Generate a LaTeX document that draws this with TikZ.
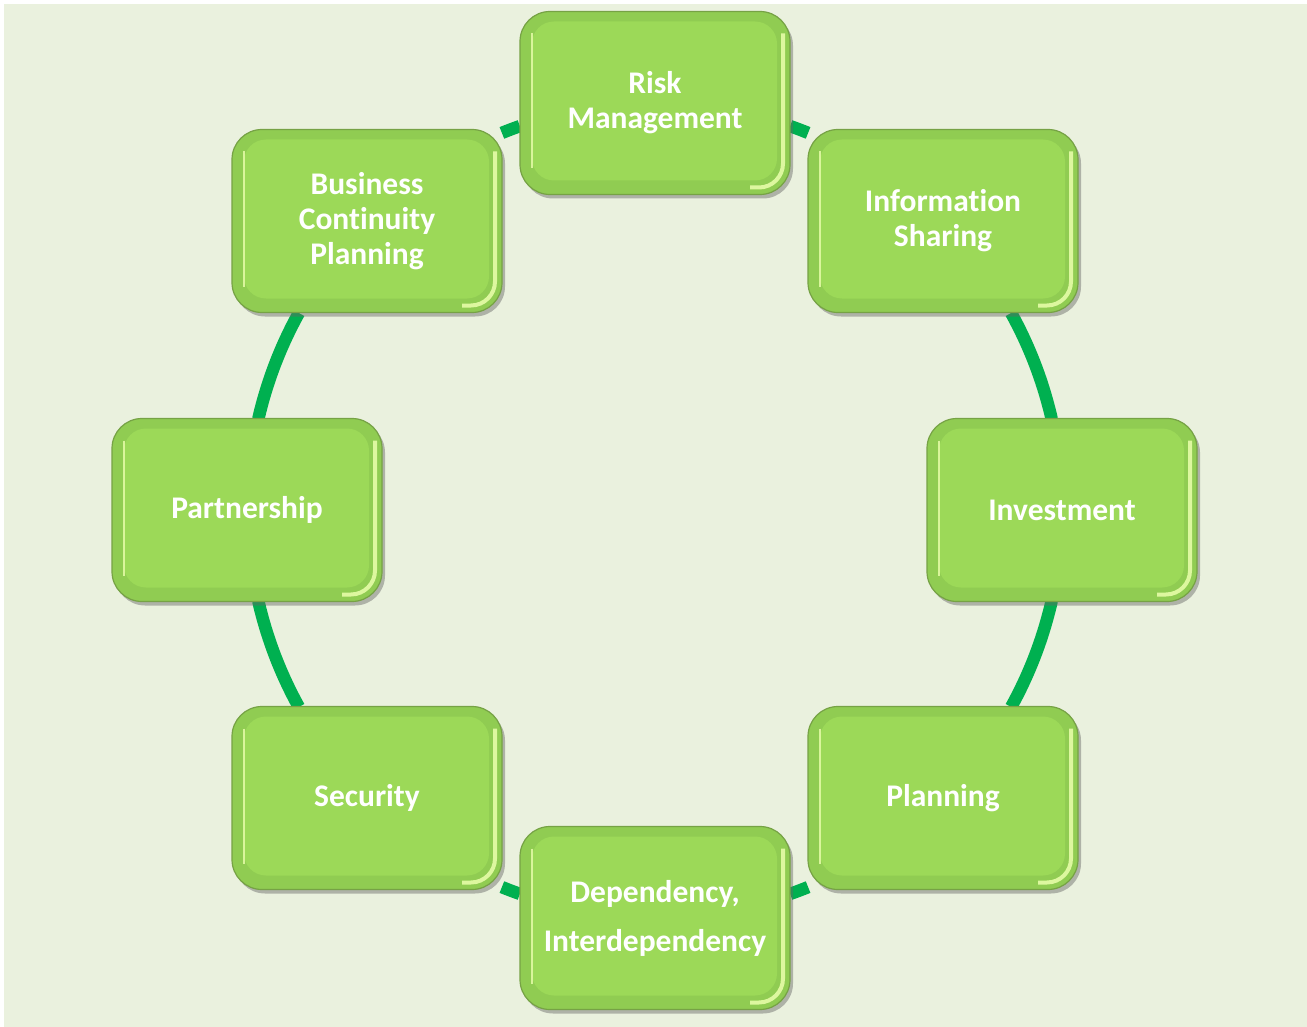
\documentclass[tikz,border=0pt]{standalone}
\usepackage{fontspec}
\setmainfont{Carlito}[Ligatures={NoCommon}]
\usetikzlibrary{shadows}
\definecolor{bg}{HTML}{EAF1DE}
\definecolor{ring}{HTML}{00B050}
\definecolor{boxouter}{HTML}{90CC52}
\definecolor{boxfill}{HTML}{9CD958}
\definecolor{boxedge}{HTML}{76A245}
\definecolor{boxlight}{HTML}{E6FCA8}
\tikzset{
  stepbox/.style={
    rectangle, rounded corners=30pt, outer sep=0pt,
    minimum width=270pt, minimum height=183pt,
    fill=boxouter, draw=boxedge, line width=1.2pt,
    text=white, align=center,
    font=\fontsize{31.5}{35}\selectfont\bfseries,
    drop shadow={shadow xshift=3pt, shadow yshift=-4pt, opacity=0.45, fill=black!60},
    path picture={
      \fill[boxfill, rounded corners=22pt]
        ([shift={(12pt,-10pt)}]path picture bounding box.north west) rectangle
        ([shift={(-13pt,14pt)}]path picture bounding box.south east);
      \draw[boxlight, line width=2.5pt, opacity=0.85]
        ([shift={(12pt,-22pt)}]path picture bounding box.north west) --
        ([shift={(12pt,26pt)}]path picture bounding box.south west);
      \draw[boxlight, line width=4pt, rounded corners=24pt, opacity=0.9]
        ([shift={(-7pt,-22pt)}]path picture bounding box.north east) --
        ([shift={(-7pt,7pt)}]path picture bounding box.south east) --
        ([shift={(-40pt,7pt)}]path picture bounding box.south east);
    }
  },
  ringline/.style={draw=ring, line width=12.5pt, line cap=butt}
}
\begin{document}
\begin{tikzpicture}[x=1pt,y=-1pt]
\useasboundingbox (0,0) rectangle (1307,1027);
\fill[white] (0,0) rectangle (1307,1027);
\fill[bg] (4,4) rectangle (1307,1027);
\coordinate (c) at (655,510);
% ring segments between neighbouring boxes (centre c, radius 407)
\draw[ringline] ([shift={(70.6:407pt)}]c) arc[start angle=70.6, end angle=67.9, radius=407pt];
\draw[ringline] ([shift={(28.95:407pt)}]c) arc[start angle=28.95, end angle=12.92, radius=407pt];
\draw[ringline] ([shift={(-12.92:407pt)}]c) arc[start angle=-12.92, end angle=-28.95, radius=407pt];
\draw[ringline] ([shift={(-67.9:407pt)}]c) arc[start angle=-67.9, end angle=-70.6, radius=407pt];
\draw[ringline] ([shift={(-109.4:407pt)}]c) arc[start angle=-109.4, end angle=-112.1, radius=407pt];
\draw[ringline] ([shift={(-151.05:407pt)}]c) arc[start angle=-151.05, end angle=-167.08, radius=407pt];
\draw[ringline] ([shift={(167.08:407pt)}]c) arc[start angle=167.08, end angle=151.05, radius=407pt];
\draw[ringline] ([shift={(112.1:407pt)}]c) arc[start angle=112.1, end angle=109.4, radius=407pt];
\node[stepbox] (risk) at (655,103) {Risk\\Management};
\node[stepbox] (info) at (943,221) {Information\\Sharing};
\node[stepbox] (inv)  at (1062,510) {Investment};
\node[stepbox] (plan) at (943,798) {Planning};
\node[stepbox] (dep)  at (655,918) {Dependency,\\[14pt]Interdependency};
\node[stepbox] (sec)  at (367,798) {Security};
\node[stepbox] (part) at (247,510) {Partnership};
\node[stepbox] (bcp)  at (367,221) {Business\\Continuity\\Planning};
\end{tikzpicture}
\end{document}
